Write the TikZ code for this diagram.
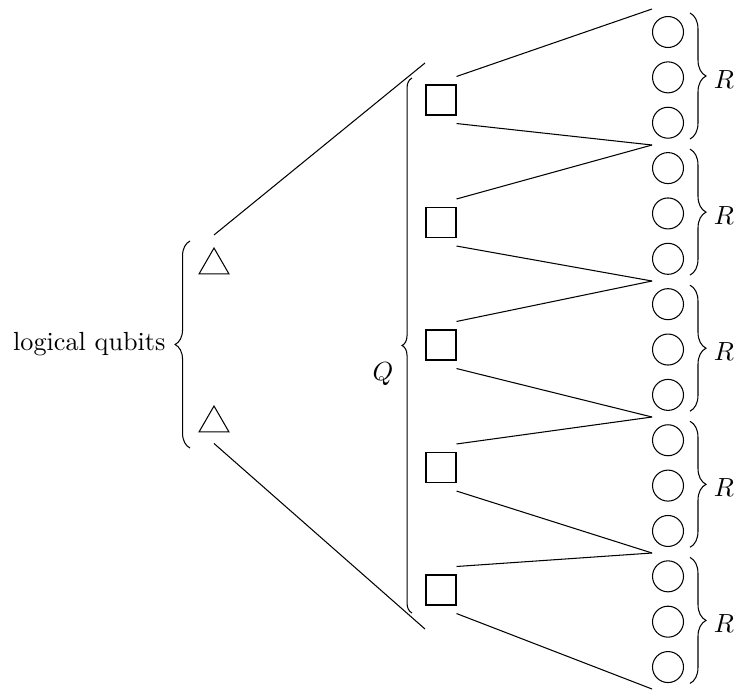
\documentclass[tikz,border=0pt]{standalone}
\usetikzlibrary{shapes.geometric,decorations.pathreplacing,calc}
\begin{document}
\begin{tikzpicture}[x=0.3817pt,y=-0.3817pt,
  sq/.style={draw,rectangle,minimum size=11.45pt,inner sep=0pt},
  phys/.style={draw,circle,minimum size=11.83pt,inner sep=0pt},
  tri/.style={draw,regular polygon,regular polygon sides=3,minimum size=13.2pt,inner sep=0pt},
  lbl/.style={inner sep=0pt},
  bracel/.style={decorate,decoration={brace,amplitude=#1}}]
\useasboundingbox (0,0) rectangle (738,689);
% physical qubits
\foreach \i in {1,...,15}
  \node[phys] (c\i) at (668,{32+45.36*(\i-1)}) {};
% squares
\foreach \i/\y in {1/100,2/222.5,3/345,4/467.5,5/590}
  \node[sq] (s\i) at (441,\y) {};
% triangles
\node[tri] (t1) at (214,265.3) {};
\node[tri] (t2) at (214,423.3) {};
% fan end points
\foreach \k in {0,...,5}
  \coordinate (b\k) at (652,{9+136*\k});
\foreach \i [evaluate=\i as \j using int(\i-1)] in {1,...,5}{
  \draw ($(s\i.north east)+(0,-8)$) -- (b\j);
  \draw ($(s\i.south east)+(0,8)$) -- (b\i);
}
% triangle lines
\coordinate (q1) at (425,63);
\coordinate (q2) at (425,629);
\draw ($(t1.north)+(0,-12)$) -- (q1);
\draw ($(t2.south)+(0,11)$) -- (q2);
% braces
\draw[bracel=5.7pt] (190,448) -- (190,241);
\node[lbl,anchor=base east] (lq) at (166,350) {logical qubits};
\draw[bracel=3.8pt] (412,613) -- (412,78);
\node[lbl,anchor=base] (Q) at (383,380) {$Q$};
\foreach \k in {0,...,4}{
  \draw[bracel=6.1pt] (690,{13+136.1*\k}) -- (690,{139+136.1*\k});
  \node[lbl,anchor=base] (r\k) at (724,{88+136.1*\k}) {$R$};
}
\end{tikzpicture}
\end{document}
